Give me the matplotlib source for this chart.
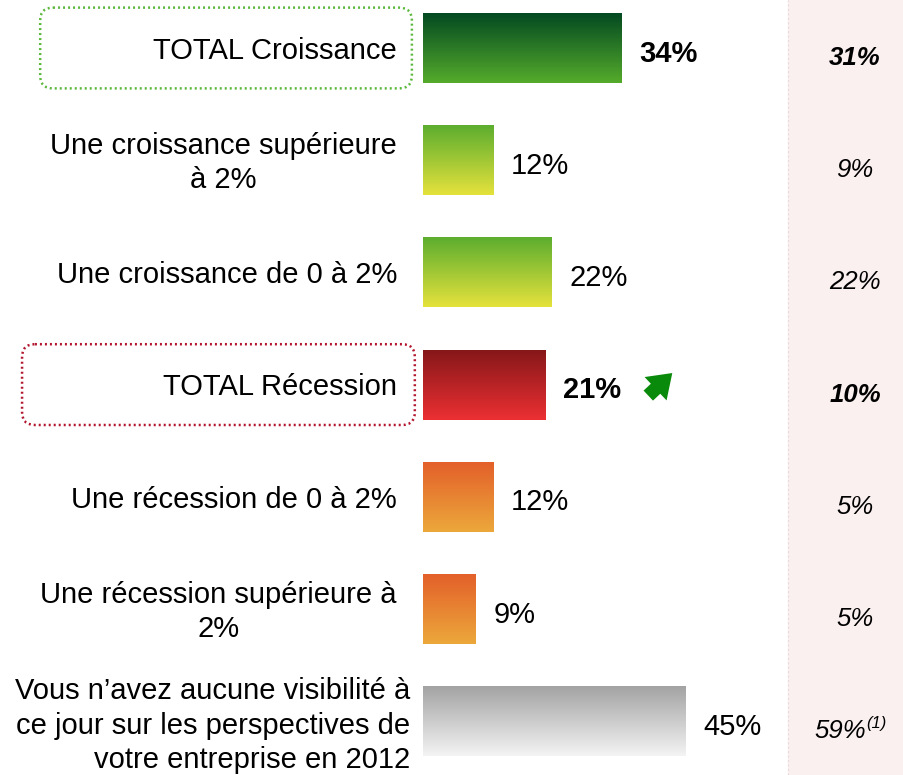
import numpy as np
import matplotlib
matplotlib.use("Agg")
import matplotlib.pyplot as plt
from matplotlib.colors import LinearSegmentedColormap
from matplotlib.patches import FancyBboxPatch, FancyArrowPatch

plt.rcParams['font.family'] = ['Liberation Sans', 'DejaVu Sans']

# ---- data ----
labels = [
    "TOTAL Croissance",
    "Une croissance supérieure\nà 2%",
    "Une croissance de 0 à 2%",
    "TOTAL Récession",
    "Une récession de 0 à 2%",
    "Une récession supérieure à\n2%",
    "Vous n’avez aucune visibilité à\nce jour sur les perspectives de\nvotre entreprise en 2012",
]
values = [34, 12, 22, 21, 12, 9, 45]
previous = ["31%", "9%", "22%", "10%", "5%", "5%", "59%"]
previous_note = [None, None, None, None, None, None, "(1)"]
is_total = [True, False, False, True, False, False, False]
gradients = [
    ("#034a22", "#55ab2b"),
    ("#5cad2f", "#e5e23c"),
    ("#5cad2f", "#e5e23c"),
    ("#861719", "#ec3033"),
    ("#e3602a", "#eca83b"),
    ("#e3602a", "#eca83b"),
    ("#a3a3a3", "#f4f4f4"),
]

W, H = 904, 775
fig = plt.figure(figsize=(W / 100, H / 100), dpi=100)
ax = fig.add_axes([0, 0, 1, 1])

x0_px, pxu = 423, (686 - 423) / 45.0
y0_px, pyu = 48, 112.2
ax.axis("off")

ypos = np.arange(len(values))
bh = 70 / pyu

# right panel
ax.axvspan((788 - x0_px) / pxu, (W - x0_px) / pxu, color="#fbf0f0", zorder=0)
ax.axvline((788 - x0_px) / pxu, color="#e6dada", lw=0.8, ls=(0, (2, 2)), zorder=1)

bars = ax.barh(ypos, values, height=bh, color="none", edgecolor="none", zorder=2)
grad = np.linspace(0, 1, 256).reshape(-1, 1)
for b, (ctop, cbot), v, y in zip(bars, gradients, values, ypos):
    cmap = LinearSegmentedColormap.from_list("g", [ctop, cbot])
    im = ax.imshow(grad, cmap=cmap, aspect="auto",
                   extent=[0, v, y + bh / 2, y - bh / 2], zorder=2)
    im.set_clip_path(b)

ax.set_xlim(-x0_px / pxu, (W - x0_px) / pxu)
ax.set_ylim((H - y0_px) / pyu, -y0_px / pyu)

FS = 21
for i, (lab, v, y) in enumerate(zip(labels, values, ypos)):
    nlines = lab.count("\n") + 1
    if nlines == 3:
        ax.text(-2.2, y + 0.04, lab, ha="right", va="center",
                fontsize=FS, multialignment="right", linespacing=1.3)
    else:
        ax.text(-4.45, y + 0.025, lab, ha="right", va="center", fontsize=FS,
                multialignment="center", linespacing=1.3)
    ax.text(v + 3.0, y + 0.05, f"{v}%", ha="left", va="center", fontsize=FS,
            fontweight="bold" if is_total[i] else "normal")

xr = (855 - x0_px) / pxu
for i, (p, note, y) in enumerate(zip(previous, previous_note, ypos)):
    fw = "bold" if is_total[i] else "normal"
    if note is None:
        ax.text(xr, y + 0.09, p, ha="center", va="center", fontsize=18.5,
                style="italic", fontweight=fw)
    else:
        ax.text((866 - x0_px) / pxu, y + 0.09, p, ha="right", va="center",
                fontsize=18.5, style="italic", fontweight=fw)
        ax.text((866 - x0_px) / pxu, y + 0.02, note, ha="left", va="center",
                fontsize=12, style="italic")

# dotted rounded boxes around totals
ma = pxu / pyu
boxes = [(0, -65.5, -1.9, "#5cb83c"), (3, -68.6, -1.4, "#b3172f")]
for yi, xa, xb, col in boxes:
    p = FancyBboxPatch((xa, ypos[yi] - 0.36), xb - xa, 0.72,
                       boxstyle="round,pad=0,rounding_size=2.2",
                       mutation_aspect=ma, facecolor="none", edgecolor=col,
                       lw=1.8, ls=(0, (0.8, 1.2)), zorder=3)
    ax.add_patch(p)

# green up arrow next to TOTAL Récession
v = values[3]
arr = FancyArrowPatch((v + 17.2, ypos[3] + 0.115), (v + 22.0, ypos[3] - 0.12),
                      arrowstyle="simple,head_length=0.75,head_width=1.05,tail_width=0.45",
                      mutation_scale=22, color="#0a8a0a", lw=0, zorder=4)
ax.add_patch(arr)

fig.savefig("out.png", dpi=100)
